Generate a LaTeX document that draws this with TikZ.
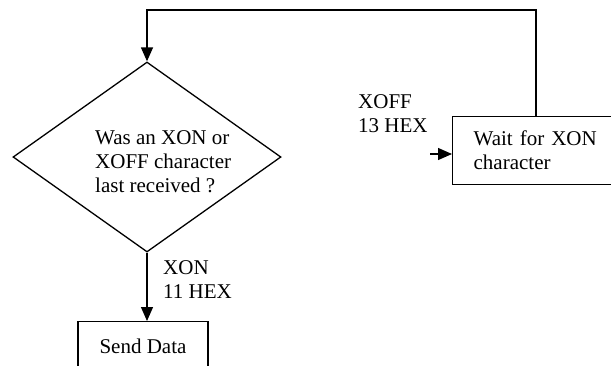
\documentclass[tikz,border=0pt]{standalone}
\usepackage{fontspec}
\setmainfont{Liberation Serif}
\usetikzlibrary{arrows.meta,calc,shapes.geometric}
\tikzset{
  FlowLine/.style={line width=1.3pt,draw=black},
  FlowArrow/.style={FlowLine,-{Triangle[length=14pt,width=12pt]}},
  FlowBox/.style={draw=black,line width=1.3pt,inner sep=0pt},
  FlowText/.style={font=\fontsize{21}{24}\selectfont,align=left,inner sep=0pt},
}

\begin{document}
\begin{tikzpicture}[x=1pt,y=-1pt]
\useasboundingbox (0,0) rectangle (611,365);

% Decision, with its question set inside it.
\node[FlowBox,diamond,minimum width=268pt,minimum height=190pt] (ask) at (147,157) {};
\node[FlowText,anchor=west] (askTxt) at (95,162) {Was an XON or\\XOFF character\\last received ?};

% The two outcomes.
\node[FlowBox,FlowText,anchor=north,minimum width=130pt,minimum height=50pt,align=center] (send) at (143,321) {Send Data};
\node[FlowBox,FlowText,anchor=north west,minimum height=68pt,text width=150pt,inner xsep=21pt] (wait) at (452,116) {Wait for XON\\character};

% Branch labels.
\node[FlowText,anchor=west] (xonLbl) at (163,280) {XON\\11 HEX};
\node[FlowText,anchor=west] (xoffLbl) at (358,114) {XOFF\\13 HEX};

% Connectors.
\coordinate (loopTop) at (147,10);
\coordinate (xoffIn) at (430,154);
\draw[FlowArrow] (ask.south) -- (ask.south |- send.north);
\draw[FlowArrow] (xoffIn) -- (xoffIn -| wait.west);
\draw[FlowArrow] ([xshift=84pt]wait.north west) |- (loopTop) -- (ask.north);

\end{tikzpicture}
\end{document}
